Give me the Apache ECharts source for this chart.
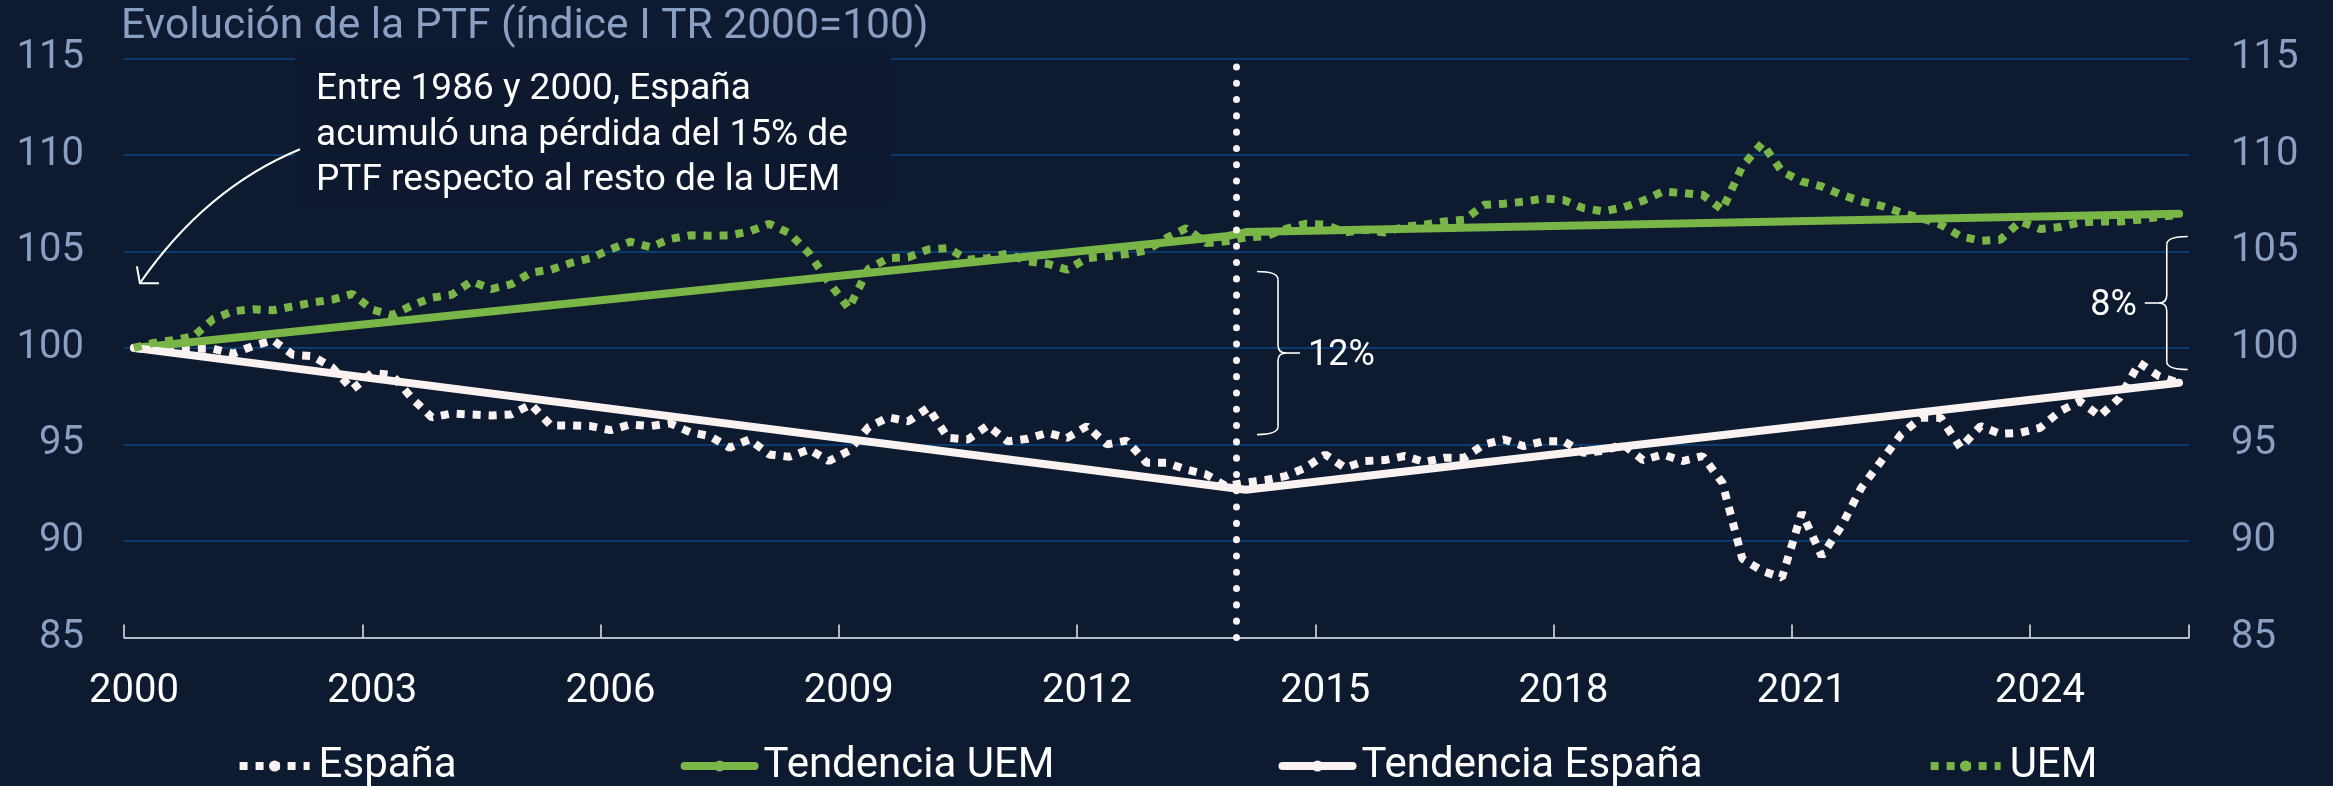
<!DOCTYPE html>
<html>
<head>
<meta charset="utf-8">
<script src="https://cdn.jsdelivr.net/npm/echarts@6/dist/echarts.min.js"></script>
<style>
  html, body { margin: 0; padding: 0; background: #0e1a2f; }
  #chart { width: 2333px; height: 786px; }
</style>
</head>
<body>
<div id="chart"></div>
<script>
// Quarterly periods, 2000T1 … 2025T4
const years = [2000, 2001, 2002, 2003, 2004, 2005, 2006, 2007, 2008, 2009, 2010, 2011, 2012,
               2013, 2014, 2015, 2016, 2017, 2018, 2019, 2020, 2021, 2022, 2023, 2024, 2025];
const quarterSuffix = ['T1', 'T2', 'T3', 'T4'];
const periods = [];
years.forEach(y => quarterSuffix.forEach(q => periods.push(y + q)));

// Years shown on the horizontal axis
const tickYears = ['2000', '2003', '2006', '2009', '2012', '2015', '2018', '2021', '2024'];

// PTF index, España (quarterly)
const espana = [
  100.0, 99.9, 99.95, 99.95, 99.95, 99.7, 100.1, 100.4,
  99.65, 99.57, 98.97, 97.85, 98.7, 98.6, 97.4, 96.4,
  96.6, 96.55, 96.5, 96.55, 97.07, 95.98, 95.98, 95.95,
  95.74, 96.03, 95.95, 96.09, 95.64, 95.43, 94.83, 95.26,
  94.48, 94.36, 94.74, 94.14, 94.66, 95.9, 96.4, 96.2,
  96.9, 95.34, 95.26, 95.98, 95.16, 95.29, 95.6, 95.34,
  95.95, 95.0, 95.2, 94.05, 94.05, 93.7, 93.45, 92.84,
  93.02, 93.16, 93.36, 93.79, 94.48, 93.79, 94.14, 94.19,
  94.4, 94.09, 94.31, 94.31, 95.0, 95.26, 94.91, 95.17,
  95.17, 94.57, 94.66, 95.0, 94.19, 94.48, 94.14, 94.4,
  93.02, 89.09, 88.45, 88.1, 91.47, 89.22, 90.78, 92.76,
  94.14, 95.52, 96.38, 96.38, 94.83, 95.95, 95.55, 95.6,
  95.86, 96.72, 97.24, 96.47, 97.41, 99.22, 98.53, 98.19
];

// PTF index, UEM (quarterly)
const uem = [
  100.0, 100.26, 100.4, 100.6, 101.5, 101.9, 102.0, 101.95,
  102.15, 102.35, 102.5, 102.8, 101.98, 101.7, 102.2, 102.6,
  102.75, 103.45, 103.05, 103.3, 103.9, 104.05, 104.4, 104.65,
  105.1, 105.5, 105.22, 105.64, 105.83, 105.81, 105.83, 106.03,
  106.43, 105.95, 104.9, 103.4, 102.05, 104.1, 104.65, 104.7,
  105.1, 105.17, 104.57, 104.65, 104.9, 104.48, 104.36, 104.05,
  104.65, 104.74, 104.86, 105.05, 105.69, 106.2, 105.43, 105.52,
  105.72, 105.78, 106.16, 106.43, 106.38, 105.98, 106.12, 105.98,
  106.29, 106.38, 106.55, 106.64, 107.41, 107.47, 107.57, 107.74,
  107.66, 107.24, 107.07, 107.28, 107.62, 108.1, 108.02, 107.93,
  107.16, 109.4, 110.6, 109.14, 108.62, 108.36, 107.93, 107.59,
  107.36, 107.02, 106.72, 106.38, 105.78, 105.55, 105.6, 106.55,
  106.16, 106.26, 106.5, 106.55, 106.55, 106.64, 106.78, 106.9
];

// Trend knots [period, index]
const tendenciaUEM = [['2000T1', 100.0], ['2013T4', 105.78], ['2014T1', 106.0], ['2025T4', 106.95]];
const tendenciaEspana = [['2000T1', 100.0], ['2014T1', 92.65], ['2025T4', 98.2]];

// Structural break and gap braces (year, upper index, lower index)
const breakYear = 2014;
const gap2014 = { label: '12%', year: 2014.53, top: 103.96, bottom: 95.51 };
const gap2025 = { label: '8%', year: 2025.72, top: 105.77, bottom: 98.88 };

const noteLines = ['Entre 1986 y 2000, España', 'acumuló una pérdida del 15% de', 'PTF respecto al resto de la UEM'];
const titleText = 'Evolución de la PTF (índice I TR 2000=100)';

const BG = '#0e1a2f';
const GREEN = '#7ab547';
const WHITE = '#faf1f1';
const MUTED = '#8aa0c3';
const GRIDLINE = '#0b3b6e';
const FONT = 'Roboto';

const isTick = (idx, val) => val.endsWith('T1') && tickYears.indexOf(val.slice(0, 4)) >= 0;

const chart = echarts.init(document.getElementById('chart'), null, { renderer: 'canvas' });

const dotted = { width: 8, type: [8, 8], cap: 'butt' };
const solid = { width: 8, type: 'solid', cap: 'round', join: 'round' };

chart.setOption({
  animation: false,
  backgroundColor: BG,
  title: {
    text: titleText,
    left: 121, top: 6, padding: 0,
    textStyle: { color: MUTED, fontSize: 42.5, fontWeight: 'normal', fontFamily: FONT, lineHeight: 42 }
  },
  grid: { left: 124, right: 144, top: 58.3, bottom: 148.5, containLabel: false },
  legend: {
    data: ['España', 'Tendencia UEM', 'Tendencia España', 'UEM'],
    left: 'center', top: 740,
    itemWidth: 70, itemHeight: 14, itemGap: 224,
    lineStyle: { width: 8, type: 'inherit', cap: 'inherit' },
    textStyle: { color: '#ffffff', fontSize: 42, fontFamily: FONT, lineHeight: 42, padding: [0, 0, 0, 4] }
  },
  xAxis: [
    {
      type: 'category', data: periods, boundaryGap: true,
      axisLine: { lineStyle: { color: '#e9e9e9', width: 1.5 } },
      axisTick: { show: true, inside: true, length: 13, interval: isTick, lineStyle: { color: '#e9e9e9', width: 1.5 } },
      axisLabel: {
        interval: isTick, formatter: v => v.slice(0, 4),
        color: '#ffffff', fontSize: 40, fontFamily: FONT, lineHeight: 40, margin: 34
      },
      splitLine: { show: false }
    },
    { type: 'value', min: 2000, max: 2026, show: false }
  ],
  yAxis: [
    {
      type: 'value', position: 'left', min: 85, max: 115, interval: 5,
      axisLine: { show: false }, axisTick: { show: false },
      axisLabel: { color: MUTED, fontSize: 40, fontFamily: FONT, lineHeight: 40, margin: 40, padding: [0, 0, 4, 0] },
      splitLine: { show: true, lineStyle: { color: GRIDLINE, width: 2 } }
    },
    {
      type: 'value', position: 'right', min: 85, max: 115, interval: 5,
      axisLine: { show: false }, axisTick: { show: false },
      axisLabel: { color: MUTED, fontSize: 40, fontFamily: FONT, lineHeight: 40, margin: 42, padding: [0, 0, 4, 0] },
      splitLine: { show: false }
    }
  ],
  series: [
    { name: 'España', type: 'line', data: espana, symbol: 'none', z: 3,
      itemStyle: { color: WHITE }, lineStyle: Object.assign({ color: WHITE }, dotted) },
    { name: 'Tendencia UEM', type: 'line', data: tendenciaUEM, symbol: 'none', z: 3,
      itemStyle: { color: GREEN }, lineStyle: Object.assign({ color: GREEN }, solid) },
    { name: 'Tendencia España', type: 'line', data: tendenciaEspana, symbol: 'none', z: 3,
      itemStyle: { color: WHITE }, lineStyle: Object.assign({ color: WHITE }, solid) },
    { name: 'UEM', type: 'line', data: uem, symbol: 'none', z: 3,
      itemStyle: { color: GREEN }, lineStyle: Object.assign({ color: GREEN }, dotted) },
    { name: 'ruptura', type: 'line', xAxisIndex: 1, yAxisIndex: 0, data: [], z: 5,
      markLine: {
        silent: true, symbol: ['none', 'none'], label: { show: false },
        lineStyle: { color: WHITE, width: 7, type: [0.1, 16.2], cap: 'round' },
        data: [{ xAxis: breakYear }]
      }
    }
  ]
});

// Annotations: note box, arrow and gap braces, anchored in data space
const px = (year, value) => chart.convertToPixel({ xAxisIndex: 1, yAxisIndex: 0 }, [year, value]);
const stroke = { stroke: '#ffffff', lineWidth: 1.6, fill: 'none' };

function brace(spec, dir) {
  // dir = +1: opens to the left, tip points right; dir = -1: mirrored
  const [xs, yTop] = px(spec.year, spec.top);
  const yBot = px(spec.year, spec.bottom)[1];
  const mid = (yTop + yBot) / 2;
  const hook = 21, tip = 22, r = 8;
  const xh = xs - dir * hook, xt = xs + dir * tip;
  return [
    { type: 'bezierCurve', shape: { x1: xh, y1: yTop, cpx1: xs, cpy1: yTop, x2: xs, y2: yTop + r }, style: stroke },
    { type: 'line', shape: { x1: xs, y1: yTop + r, x2: xs, y2: mid - r }, style: stroke },
    { type: 'bezierCurve', shape: { x1: xs, y1: mid - r, cpx1: xs, cpy1: mid, x2: xs + dir * r, y2: mid }, style: stroke },
    { type: 'bezierCurve', shape: { x1: xs, y1: mid + r, cpx1: xs, cpy1: mid, x2: xs + dir * r, y2: mid }, style: stroke },
    { type: 'line', shape: { x1: xs + dir * r, y1: mid, x2: xt, y2: mid }, style: stroke },
    { type: 'line', shape: { x1: xs, y1: mid + r, x2: xs, y2: yBot - r }, style: stroke },
    { type: 'bezierCurve', shape: { x1: xs, y1: yBot - r, cpx1: xs, cpy1: yBot, x2: xh, y2: yBot }, style: stroke },
    { type: 'text', x: xt + dir * 8, y: mid + 3,
      style: { text: spec.label, fill: '#ffffff', font: '36px ' + FONT,
               align: dir > 0 ? 'left' : 'right', verticalAlign: 'middle' } }
  ];
}

const arrowStart = px(2002.216, 110.29);
const arrowCtrl = px(2001.03, 108.28);
const arrowTip = px(2000.2, 103.35);

const graphics = [
  { type: 'rect', z: 1, shape: { x: 295, y: 52, width: 596, height: 153 }, style: { fill: BG, opacity: 0.93 } },
  { type: 'text', z: 2, x: 316, y: 67,
    style: { text: noteLines.join('\n'), fill: '#ffffff', font: '37px ' + FONT, lineHeight: 45.5, verticalAlign: 'top' } },
  { type: 'bezierCurve', z: 2,
    shape: { x1: arrowStart[0], y1: arrowStart[1], cpx1: arrowCtrl[0], cpy1: arrowCtrl[1], x2: arrowTip[0], y2: arrowTip[1] },
    style: { stroke: '#ffffff', lineWidth: 2, fill: 'none' } },
  { type: 'polyline', z: 2,
    shape: { points: [[arrowTip[0] - 3, arrowTip[1] - 17], [arrowTip[0], arrowTip[1]], [arrowTip[0] + 19, arrowTip[1]]] },
    style: { stroke: '#ffffff', lineWidth: 2, fill: 'none' } }
].concat(brace(gap2014, 1), brace(gap2025, -1));

chart.setOption({ graphic: { elements: graphics } });
</script>
</body>
</html>
